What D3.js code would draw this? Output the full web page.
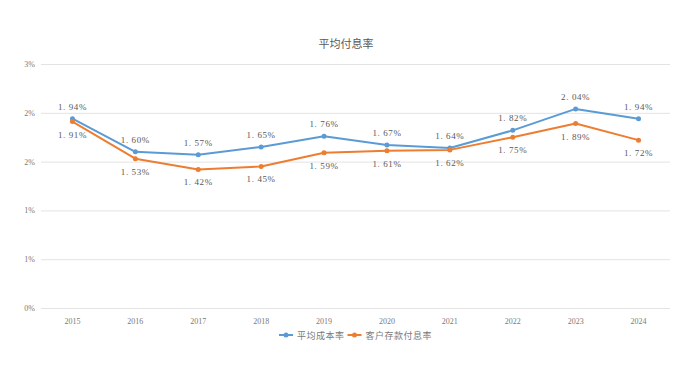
<!DOCTYPE html>
<html>
<head>
<meta charset="utf-8">
<script src="https://cdn.jsdelivr.net/npm/d3@7"></script>
<style>
    body { margin: 0; background: #fff; }
    svg { display: block; }
</style>
</head>
<body>
<svg id="chart"></svg>
<script>
const years = ["2015", "2016", "2017", "2018", "2019", "2020", "2021", "2022", "2023", "2024"];
const avgCostRate = [1.94, 1.60, 1.57, 1.65, 1.76, 1.67, 1.64, 1.82, 2.04, 1.94];
const depositRate = [1.91, 1.53, 1.42, 1.45, 1.59, 1.61, 1.62, 1.75, 1.89, 1.72];
const yTickValues = [0, 0.5, 1.0, 1.5, 2.0, 2.5];
const yTickLabels = ["0%", "1%", "1%", "2%", "2%", "3%"];
const seriesNames = ["平均成本率", "客户存款付息率"];

const WIDTH = 692;
const HEIGHT = 390;
const TEXT_COLOR = "#595959";
const AXIS_COLOR = "#7a7a7a";
const CJK_FONT = "'Noto Sans CJK SC', sans-serif";
const NUM_FONT = "'Liberation Serif', 'DejaVu Serif', serif";

const series = [
    { name: seriesNames[0], values: avgCostRate, color: "#5b9bd5", labelDy: -9 },
    { name: seriesNames[1], values: depositRate, color: "#ed7d31", labelDy: 16 }
];

const svg = d3.select("#chart")
    .attr("width", WIDTH)
    .attr("height", HEIGHT)
    .attr("viewBox", `0 0 ${WIDTH} ${HEIGHT}`);

const x = d3.scaleBand().domain(years).range([41, 670]);
const y = d3.scaleLinear().domain([0, 2.5]).range([308, 64]);
const cx = (year) => x(year) + x.bandwidth() / 2;

// title
svg.append("text")
    .attr("x", 346)
    .attr("y", 48)
    .attr("text-anchor", "middle")
    .attr("fill", TEXT_COLOR)
    .attr("font-family", CJK_FONT)
    .attr("font-size", 11)
    .text("平均付息率");

// grid + y labels
const yAxis = d3.axisLeft(y)
    .tickValues(yTickValues)
    .tickSize(-(670 - 41))
    .tickPadding(6)
    .tickFormat((_, i) => yTickLabels[i]);

const yG = svg.append("g")
    .attr("transform", "translate(41,0)")
    .call(yAxis);
yG.select(".domain").remove();
yG.selectAll(".tick line").attr("stroke", "#e3e3e3").attr("stroke-width", 1);
yG.selectAll(".tick text")
    .attr("fill", AXIS_COLOR)
    .attr("font-family", NUM_FONT)
    .attr("font-size", 8);

// x labels
const xG = svg.append("g")
    .attr("transform", "translate(0,308)")
    .call(d3.axisBottom(x).tickSize(0).tickPadding(10));
xG.select(".domain").remove();
xG.selectAll(".tick text")
    .attr("fill", AXIS_COLOR)
    .attr("font-family", NUM_FONT)
    .attr("font-size", 8);

const line = d3.line()
    .x((d) => cx(d.year))
    .y((d) => y(d.value));

series.forEach((s) => {
    const points = years.map((year, i) => ({ year, value: s.values[i] }));

    svg.append("path")
        .datum(points)
        .attr("fill", "none")
        .attr("stroke", s.color)
        .attr("stroke-width", 2)
        .attr("stroke-linejoin", "round")
        .attr("d", line);

    svg.append("g")
        .selectAll("circle")
        .data(points)
        .join("circle")
        .attr("cx", (d) => cx(d.year))
        .attr("cy", (d) => y(d.value))
        .attr("r", 2.5)
        .attr("fill", s.color);

    svg.append("g")
        .selectAll("text")
        .data(points)
        .join("text")
        .attr("x", (d) => cx(d.year))
        .attr("y", (d) => y(d.value) + s.labelDy)
        .attr("text-anchor", "middle")
        .attr("fill", TEXT_COLOR)
        .attr("font-family", NUM_FONT)
        .attr("font-size", 9)
        .attr("letter-spacing", 0.6)
        .text((d) => d.value.toFixed(2).replace(".", ". ") + "%");
});

// legend
const legend = svg.append("g").attr("transform", "translate(279,335)");
let offsetX = 0;
series.forEach((s) => {
    const item = legend.append("g").attr("transform", `translate(${offsetX},0)`);
    item.append("line")
        .attr("x1", 0).attr("x2", 14)
        .attr("y1", 0).attr("y2", 0)
        .attr("stroke", s.color)
        .attr("stroke-width", 2);
    item.append("circle").attr("cx", 7).attr("cy", 0).attr("r", 2.5).attr("fill", s.color);
    const label = item.append("text")
        .attr("x", 18)
        .attr("y", 3.5)
        .attr("fill", AXIS_COLOR)
        .attr("font-family", CJK_FONT)
        .attr("font-size", 9)
        .attr("letter-spacing", 0.5)
        .text(s.name);
    offsetX += 18 + label.node().getComputedTextLength() + 3;
});
</script>
</body>
</html>
